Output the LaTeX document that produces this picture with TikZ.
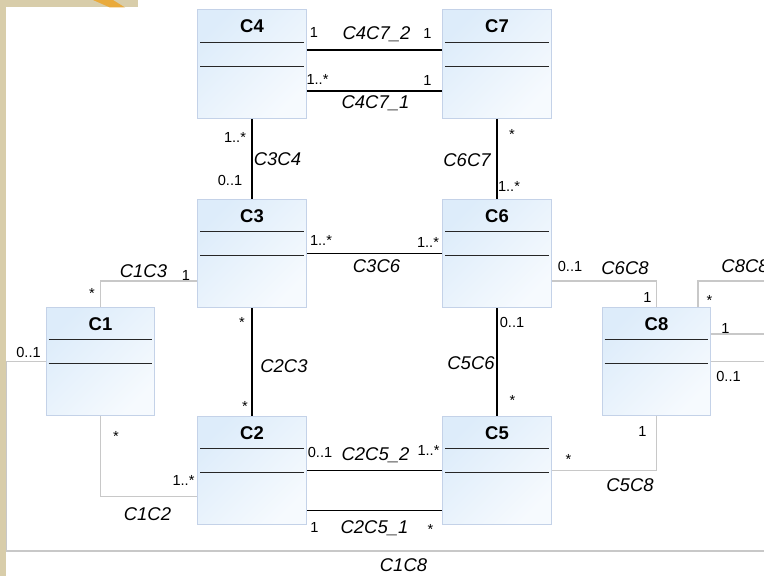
\documentclass[tikz,border=0pt]{standalone}
\usepackage{fontspec}
\setmainfont{Liberation Sans}
\usepackage{tikz}
\usetikzlibrary{positioning,calc}
\definecolor{umlbord}{RGB}{196,210,232}
\definecolor{umlhaut}{RGB}{221,236,250}
\definecolor{umlbas}{RGB}{246,250,254}
\definecolor{umlgris}{RGB}{200,200,200}
\definecolor{fondbeige}{RGB}{216,205,170}
\definecolor{fondorange}{RGB}{233,170,60}

% one class: box, name, two compartment lines
\newcommand{\umlclass}[3]{%
  \node[classe] (#1) at (#2) {};
  \node[nomclasse] (#1nom) at ($(#1.north)+(0,-0.34)$) {#3};
  \draw[compart] ($(#1.north west)+(0.06,-0.66)$) -- ($(#1.north east)+(-0.06,-0.66)$);
  \draw[compart] ($(#1.north west)+(0.06,-1.14)$) -- ($(#1.north east)+(-0.06,-1.14)$);
}

\begin{document}
\begin{tikzpicture}[
    classe/.style={draw=umlbord, top color=umlhaut, bottom color=umlbas,
                   shading angle=45, minimum width=2.17cm, minimum height=2.17cm,
                   inner sep=0pt, line width=0.6pt},
    nomclasse/.style={font=\fontsize{10.5}{12}\selectfont\bfseries, inner sep=0pt},
    compart/.style={line width=0.6pt, black!85},
    assoc/.style={line width=0.6pt, black},
    lien/.style={line width=0.6pt, umlgris},
    mult/.style={font=\fontsize{8.3}{10}\selectfont, inner sep=0pt},
    nomassoc/.style={font=\fontsize{10.5}{12}\selectfont\itshape, inner sep=0pt}
  ]
  \useasboundingbox (0,0) rectangle (15.28,11.52);
  \clip (0,0) rectangle (15.28,11.52);

  % Background
  \fill[white] (0,0) rectangle (15.28,11.52);
  \fill[fondbeige] (0,0) rectangle (0.12,11.52);
  \fill[fondbeige] (0,11.37) rectangle (2.76,11.52);
  \fill[fondorange] (1.86,11.52) -- (2.26,11.52) -- (2.50,11.37) -- (2.20,11.37) -- cycle;

  % Classes
  \umlclass{c4}{5.04,10.24}{C4}
  \umlclass{c7}{9.94,10.24}{C7}
  \umlclass{c3}{5.04,6.45}{C3}
  \umlclass{c6}{9.94,6.45}{C6}
  \umlclass{c1}{2.01,4.29}{C1}
  \umlclass{c2}{5.04,2.11}{C2}
  \umlclass{c5}{9.94,2.11}{C5}
  \umlclass{c8}{13.13,4.29}{C8}

  % Associations
  \draw[assoc] ([yshift=0.28cm]c4.east) -- ([yshift=0.28cm]c7.west);
  \draw[assoc] ([yshift=-0.54cm]c4.east) -- ([yshift=-0.54cm]c7.west);
  \draw[assoc] (c4.south) -- (c3.north);
  \draw[assoc] (c7.south) -- (c6.north);
  \draw[assoc] (c3.east) -- (c6.west);
  \draw[assoc] (c3.south) -- (c2.north);
  \draw[assoc] (c6.south) -- (c5.north);
  \draw[assoc] (c2.east) -- (c5.west);
  \draw[assoc] ([yshift=-0.80cm]c2.east) -- ([yshift=-0.80cm]c5.west);

  \draw[lien] (c1.north) |- ([yshift=-0.55cm]c3.west);
  \draw[lien] (c1.south) |- ([yshift=-0.52cm]c2.west);
  \draw[lien] ([yshift=-0.55cm]c6.east) -| (c8.north);
  \draw[lien] (c5.east) -| (c8.south);
  \coordinate (c1c8bas) at (15.6,0.5);
  \draw[lien] (c1.west) -- ++(-0.78,0) |- (c1c8bas) |- (c8.east);
  \coordinate (c8boucle) at (15.6,5.9);
  \draw[lien] ([xshift=0.83cm]c8.north) |- (c8boucle) |- ([yshift=0.55cm]c8.east);

  % Multiplicities
  \node[mult] (m47a) at (6.28,10.87) {1};
  \node[mult] (m47b) at (8.55,10.86) {1};
  \node[mult] (m47c) at (6.35,9.94) {1..*};
  \node[mult] (m47d) at (8.55,9.92) {1};
  \node[mult] (m34a) at (4.70,8.78) {1..*};
  \node[mult] (m34b) at (4.60,7.92) {0..1};
  \node[mult] (m67a) at (10.24,8.84) {*};
  \node[mult] (m67b) at (10.18,7.79) {1..*};
  \node[mult] (m36a) at (6.42,6.71) {1..*};
  \node[mult] (m36b) at (8.56,6.67) {1..*};
  \node[mult] (m23a) at (4.84,5.08) {*};
  \node[mult] (m23b) at (4.90,3.40) {*};
  \node[mult] (m56a) at (10.24,5.08) {0..1};
  \node[mult] (m56b) at (10.25,3.52) {*};
  \node[mult] (m13a) at (3.72,6.02) {1};
  \node[mult] (m13b) at (1.84,5.66) {*};
  \node[mult] (m18a) at (0.57,4.48) {0..1};
  \node[mult] (m12a) at (2.32,2.80) {*};
  \node[mult] (m12b) at (3.67,1.92) {1..*};
  \node[mult] (m68a) at (11.40,6.20) {0..1};
  \node[mult] (m68b) at (12.95,5.58) {1};
  \node[mult] (m88a) at (14.19,5.52) {*};
  \node[mult] (m88b) at (14.51,4.96) {1};
  \node[mult] (m18b) at (14.57,4.00) {0..1};
  \node[mult] (m58a) at (12.85,2.89) {1};
  \node[mult] (m58b) at (11.37,2.34) {*};
  \node[mult] (m25a) at (6.40,2.48) {0..1};
  \node[mult] (m25b) at (8.57,2.52) {1..*};
  \node[mult] (m25c) at (6.29,0.97) {1};
  \node[mult] (m25d) at (8.61,0.94) {*};

  % Association names
  \node[nomassoc] (n47b) at (7.53,10.83) {C4C7\_2};
  \node[nomassoc] (n47a) at (7.51,9.46) {C4C7\_1};
  \node[nomassoc] (n34) at (5.55,8.34) {C3C4};
  \node[nomassoc] (n67) at (9.34,8.32) {C6C7};
  \node[nomassoc] (n36) at (7.53,6.19) {C3C6};
  \node[nomassoc] (n23) at (5.68,4.19) {C2C3};
  \node[nomassoc] (n56) at (9.42,4.25) {C5C6};
  \node[nomassoc] (n13) at (2.87,6.09) {C1C3};
  \node[nomassoc] (n12) at (2.95,1.24) {C1C2};
  \node[nomassoc] (n68) at (12.50,6.15) {C6C8};
  \node[nomassoc] (n88) at (14.90,6.19) {C8C8};
  \node[nomassoc] (n58) at (12.60,1.82) {C5C8};
  \node[nomassoc] (n25b) at (7.51,2.42) {C2C5\_2};
  \node[nomassoc] (n25a) at (7.49,0.95) {C2C5\_1};
  \node[nomassoc] (n18) at (8.07,0.22) {C1C8};
\end{tikzpicture}
\end{document}
